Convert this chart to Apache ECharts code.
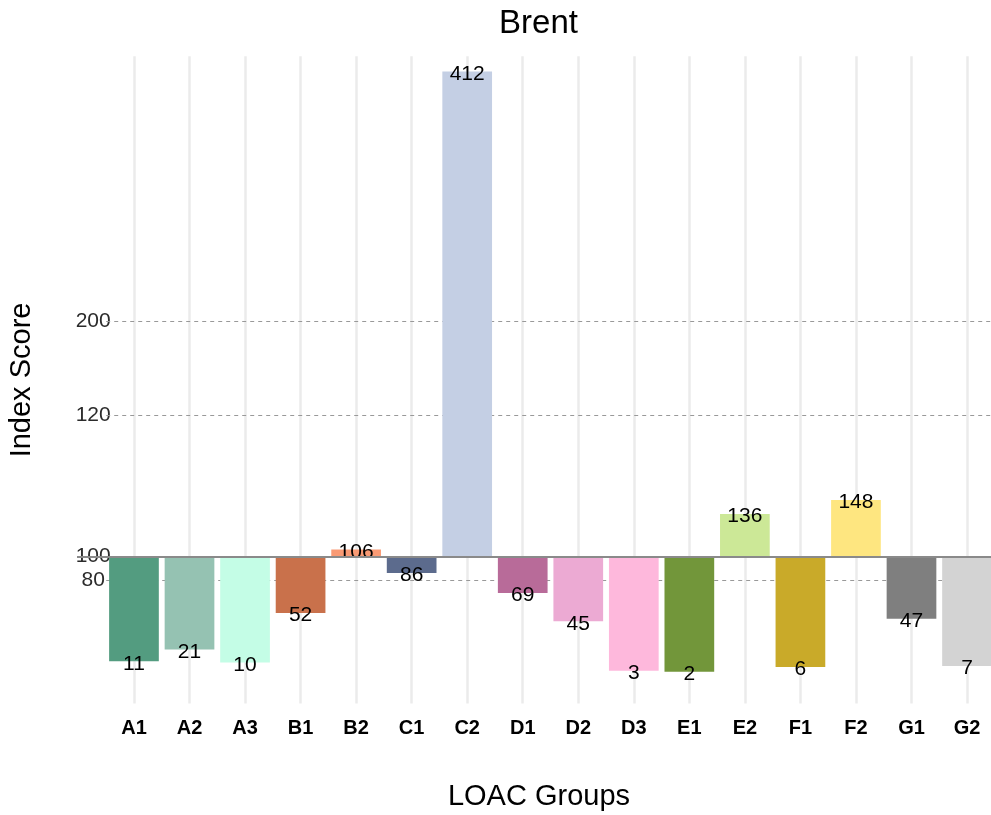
<!DOCTYPE html>
<html>
<head>
<meta charset="utf-8">
<script src="https://cdn.jsdelivr.net/npm/echarts@6/dist/echarts.min.js"></script>
<style>
  html, body { margin: 0; padding: 0; background: #ffffff; }
  #chart { width: 991px; height: 815px; }
</style>
</head>
<body>
<div id="chart"></div>
<script>
// LOAC groups (x categories)
const categories = ['A1','A2','A3','B1','B2','C1','C2','D1','D2','D3','E1','E2','F1','F2','G1','G2'];
// Index score printed on each bar
const indexScores = [11, 21, 10, 52, 106, 86, 412, 69, 45, 3, 2, 136, 6, 148, 47, 7];
const barValues = [-89, -79, -90, -48, 6, -14, 412, -31, -55, -97, -98, 36, -94, 48, -53, -93];
// Bar fill colours (LOAC palette)
const barColors = ['#539c80','#95c2b2','#c4fde6','#c9714b','#f99a74','#5c6b8d','#c4cfe4','#b86b99',
                   '#ecaad3','#feb8dc','#72963a','#cce897','#c9aa29','#fee680','#7f7f7f','#d3d3d3'];
// Y tick positions on the axis and the labels printed there
const yTickValues = [-20, 0, 120, 200];
const yTickLabels = ['80', '100', '120', '200'];
// Dashed reference lines
const dashedLines = [-20, 120, 200];

const FONT = "'Liberation Sans', Arial, Helvetica, sans-serif";

const chart = echarts.init(document.getElementById('chart'), null, { renderer: 'canvas' });

const barData = barValues.map((v, i) => ({
  value: v,
  itemStyle: { color: barColors[i] },
  label: v >= 0 ? { position: 'top', distance: -13 } : { position: 'bottom', distance: -8 }
}));

const option = {
  animation: false,
  backgroundColor: '#ffffff',
  textStyle: { fontFamily: FONT },
  title: {
    text: 'Brent',
    left: 538.5,
    top: 7,
    padding: 0,
    textAlign: 'center',
    textStyle: { fontSize: 33, fontWeight: 'normal', color: '#000', fontFamily: FONT }
  },
  grid: {
    left: 106.2,
    top: 56.3,
    width: 888.6,
    height: 647.3,
    containLabel: false,
    outerBoundsMode: 'none'
  },
  xAxis: {
    type: 'category',
    data: categories,
    name: 'LOAC Groups',
    nameLocation: 'middle',
    nameGap: 79,
    nameTextStyle: { fontSize: 29, color: '#000', fontFamily: FONT, padding: [0, 23, 0, 0] },
    axisLine: { show: false },
    axisTick: { show: false },
    splitLine: { show: false },
    axisLabel: { fontSize: 20, fontWeight: 'bold', color: '#000', margin: 15, fontFamily: FONT, interval: 0 }
  },
  yAxis: {
    type: 'value',
    min: -125,
    max: 425,
    interval: 5,
    name: 'Index Score',
    nameLocation: 'middle',
    nameGap: 70,
    nameTextStyle: { fontSize: 29, color: '#000', fontFamily: FONT },
    axisLine: { show: false },
    axisTick: { show: false },
    splitLine: { show: false },
    axisLabel: {
      fontSize: 21,
      color: '#2b2b2b',
      align: 'center',
      margin: 13,
      fontFamily: FONT,
      formatter: function (val) {
        const k = yTickValues.indexOf(Math.round(val));
        return k >= 0 && Math.abs(val - yTickValues[k]) < 1e-6 ? yTickLabels[k] : '';
      }
    }
  },
  series: [
    {
      type: 'line',
      data: [],
      silent: true,
      markLine: {
        z: 1,
        silent: true,
        symbol: ['none', 'none'],
        label: { show: false },
        animation: false,
        data: [
          ...categories.map(c => ({ xAxis: c, lineStyle: { color: '#ebebeb', width: 2.5, type: 'solid' } })),
          ...dashedLines.map(v => ({ yAxis: v, lineStyle: { color: '#999999', width: 1, type: [4, 4] } }))
        ]
      }
    },
    {
      type: 'bar',
      data: barData,
      barWidth: '89.5%',
      z: 2,
      label: {
        show: true,
        fontSize: 21,
        color: '#000',
        fontFamily: FONT,
        formatter: function (p) { return String(indexScores[p.dataIndex]); }
      },
      markLine: {
        z: 5,
        silent: true,
        symbol: ['none', 'none'],
        label: { show: false },
        animation: false,
        data: [
          [ { x: 77, yAxis: 0 }, { x: 991, yAxis: 0 } ]
        ],
        lineStyle: { color: '#8a8a8a', width: 2, type: 'solid' }
      }
    }
  ]
};

chart.setOption(option);
</script>
</body>
</html>
